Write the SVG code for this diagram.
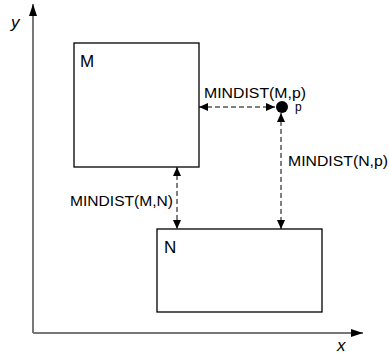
<svg xmlns="http://www.w3.org/2000/svg" width="389" height="359" viewBox="0 0 389 359">
<defs>
<marker id="ah" markerWidth="9" markerHeight="8" refX="9" refY="4" orient="auto-start-reverse" markerUnits="userSpaceOnUse">
<path d="M0,0 L9,4 L0,8 Z" fill="#000"/>
</marker>
<marker id="axh" markerWidth="12" markerHeight="8" refX="12" refY="4" orient="auto" markerUnits="userSpaceOnUse">
<path d="M0,0 L12,4 L0,8 Z" fill="#000"/>
</marker>
</defs>
<style>
.box{fill:#fff;stroke:#000;stroke-width:1.3}
.axis{fill:none;stroke:#777;stroke-width:2}
.dash{fill:none;stroke:#000;stroke-width:1;stroke-dasharray:5,3}
.lbl{font-family:"Liberation Sans",Arial,sans-serif;font-size:15px;fill:#000}
.big{font-family:"Liberation Sans",Arial,sans-serif;font-size:17px;fill:#000}
.ax{font-family:"Liberation Sans",Arial,sans-serif;font-size:17px;font-style:italic;fill:#000}
</style>
<g id="axes">
<path class="axis" d="M33,333 V4" marker-end="url(#axh)"/>
<path class="axis" d="M33,333 H363" marker-end="url(#axh)"/>
<text class="ax" x="11" y="28">y</text>
<text class="ax" x="337" y="351">x</text>
</g>
<g id="M">
<rect class="box" x="74" y="43" width="125" height="124"/>
<text class="big" x="80" y="67">M</text>
</g>
<g id="N">
<rect class="box" x="157" y="229" width="165" height="83"/>
<text class="big" x="164" y="253">N</text>
</g>
<g id="p">
<circle cx="282" cy="107" r="6" fill="#000"/>
<text class="lbl" x="295" y="111" style="font-size:12px">p</text>
</g>
<g id="connectors">
<path class="dash" d="M199,107 H275" marker-start="url(#ah)" marker-end="url(#ah)"/>
<path class="dash" d="M281,113 V229" marker-start="url(#ah)" marker-end="url(#ah)"/>
<path class="dash" d="M177,167 V229" marker-start="url(#ah)" marker-end="url(#ah)"/>
</g>
<g id="labels">
<text class="lbl" x="204" y="98" textLength="102" lengthAdjust="spacingAndGlyphs">MINDIST(M,p)</text>
<text class="lbl" x="70" y="206" textLength="103" lengthAdjust="spacingAndGlyphs">MINDIST(M,N)</text>
<text class="lbl" x="288" y="166" textLength="100" lengthAdjust="spacingAndGlyphs">MINDIST(N,p)</text>
</g>
</svg>
